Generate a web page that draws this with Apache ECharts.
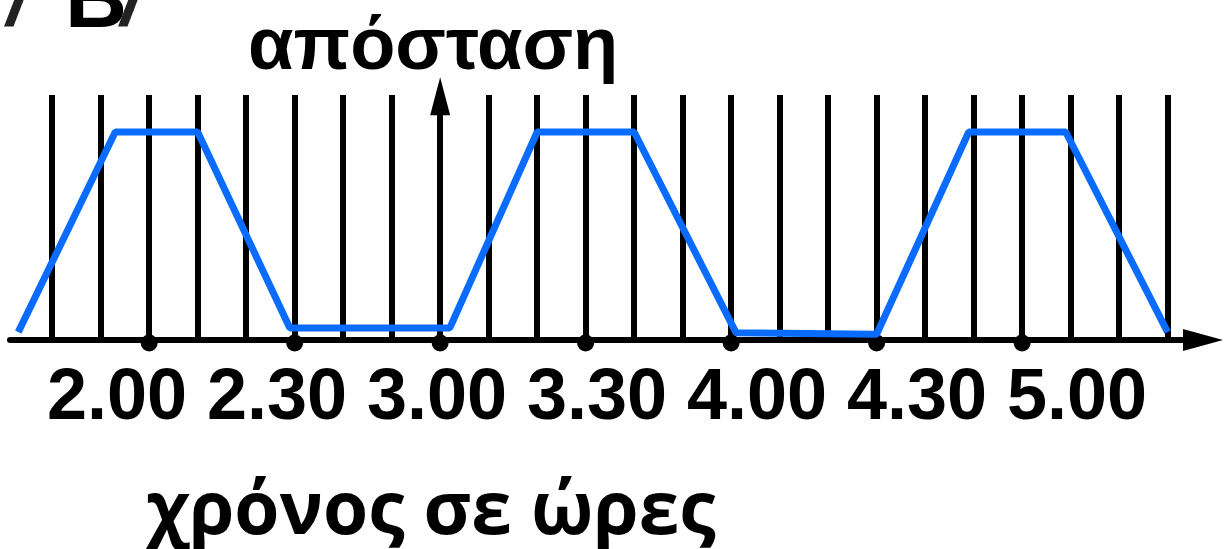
<!DOCTYPE html>
<html><head><meta charset="utf-8">
<script src="https://cdn.jsdelivr.net/npm/echarts@6/dist/echarts.min.js"></script>
<style>html,body{margin:0;padding:0;background:#fff}#c{width:1227px;height:549px}</style>
</head><body><div id="c"></div>
<script>
// time in minutes after midnight; distance in arbitrary units (0..100)
const tickLabels = ['2.00', '2.30', '3.00', '3.30', '4.00', '4.30', '5.00'];
const tickTimes = [120, 150, 180, 210, 240, 270, 300];
const gridTimes = [100, 110, 120, 130, 140, 150, 160, 170, 180, 190, 200, 210, 220, 230, 240, 250, 260, 270, 280, 290, 300, 310, 320, 330];
const distTimes = [93, 113, 130, 149, 182, 200, 220, 241, 270, 289, 309, 330];
const distValues = [3, 79.4, 79.4, 4.6, 4.6, 79.4, 79.4, 2.8, 2.2, 79.4, 79.4, 3];
const gridLineTop = 93.5;
const yAxisTime = 180;
const yAxisTop = 93;

const chart = echarts.init(document.getElementById('c'), null, {renderer: 'canvas'});

const vLines = gridTimes.map(t => [{coord: [t, 0]}, {coord: [t, gridLineTop]}]);
vLines.push([
  {coord: [yAxisTime, 0], symbol: 'none'},
  {coord: [yAxisTime, yAxisTop], symbol: 'triangle', symbolSize: [20, 38]}
]);

chart.setOption({
  animation: false,
  backgroundColor: '#fff',
  title: [
    {text: 'απόσταση', left: 243, top: 7,
     textStyle: {fontFamily: 'Liberation Sans', fontWeight: 'bold', fontSize: 74, color: '#000'}},
    {text: 'χρόνος σε ώρες', left: 141, top: 472,
     textStyle: {fontFamily: 'Open Sans', fontWeight: 'bold', fontSize: 73, color: '#000'}},
    {text: '{s|/}{b|B}{s|/}', left: 2, top: -45,
     textStyle: {rich: {
       s: {fontFamily: 'Liberation Sans', fontSize: 80, fontStyle: 'italic', color: '#222', width: 58},
       b: {fontFamily: 'Liberation Sans', fontWeight: 'bold', fontSize: 86, color: '#000', width: 56}
     }}}
  ],
  grid: [
    {left: 10, right: 24, top: 78, bottom: 209},
    {left: 37, width: 1120, top: 78, bottom: 209}
  ],
  xAxis: [
    {type: 'value', gridIndex: 0, min: 91.3, max: 337.3,
     axisLine: {show: true, symbol: ['none', 'triangle'], symbolSize: [22, 40],
                lineStyle: {color: '#000', width: 6}},
     axisTick: {show: false}, axisLabel: {show: false}, splitLine: {show: false}},
    {type: 'category', gridIndex: 1, data: tickLabels, boundaryGap: true,
     axisLine: {show: false}, axisTick: {show: false}, splitLine: {show: false},
     axisLabel: {show: true, margin: 23, color: '#000', fontFamily: 'Liberation Sans',
                 fontWeight: 'bold', fontSize: 72, interval: 0}}
  ],
  yAxis: [
    {type: 'value', gridIndex: 0, min: 0, max: 100,
     axisLine: {show: false}, axisTick: {show: false}, axisLabel: {show: false}, splitLine: {show: false}},
    {type: 'value', gridIndex: 1, min: 0, max: 100, show: false}
  ],
  series: [
    {type: 'line', name: 'grid', xAxisIndex: 0, yAxisIndex: 0, data: [], z: 2,
     silent: true,
     markLine: {silent: true, symbol: 'none', symbolSize: [20, 38], label: {show: false},
                lineStyle: {color: '#000', width: 6, type: 'solid', opacity: 1},
                data: vLines}},
    {type: 'scatter', name: 'ticks', xAxisIndex: 0, yAxisIndex: 0, z: 3,
     data: tickTimes.map(t => [t, 0]), symbolSize: 17, symbolOffset: [0, 3],
     itemStyle: {color: '#000', opacity: 1}},
    {type: 'line', name: 'απόσταση', xAxisIndex: 0, yAxisIndex: 0, z: 5,
     data: distTimes.map((t, i) => [t, distValues[i]]), symbol: 'none',
     lineStyle: {color: '#0a6cff', width: 7}}
  ]
});
</script></body></html>
